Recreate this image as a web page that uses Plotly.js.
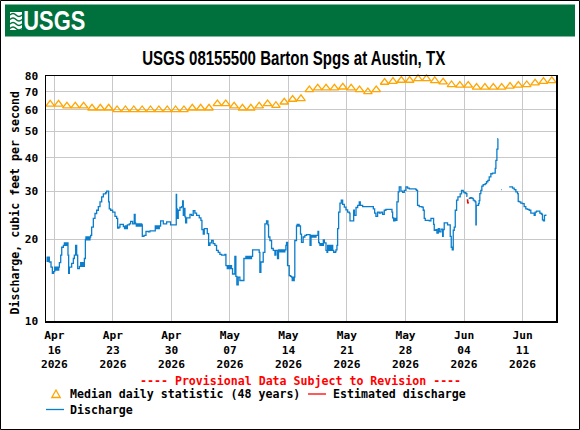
<!DOCTYPE html>
<html>
<head>
<meta charset="utf-8">
<script src="https://cdn.plot.ly/plotly-3.0.1.min.js"></script>
<style>
  html, body { margin: 0; padding: 0; background: #fff; }
  #chart { width: 580px; height: 430px; }
</style>
</head>
<body>
<div id="chart"></div>
<script>
// Barton Springs at Austin, TX: instantaneous discharge, Apr 15 - Jun 15 2026.
// Times are in days since 2026-04-15 00:00; null values break the line (missing data).
const startDate = Date.UTC(2026, 3, 15);

const flowDay = [
  0.08, 0.14, 0.20, 0.26, 0.32, 0.40, 0.60, 0.76, 0.90, 1.04, 1.12, 1.20, 1.28, 1.36, 1.44, 1.52,
  1.60, 1.76, 1.88, 2.08, 2.20, 2.26, 2.32, 2.38, 2.44, 2.50, 2.56, 2.63, 2.71, 2.79, 3.07, 3.27,
  3.39, 3.55, 3.67, 3.79, 3.99, 4.15, 4.22, 4.30, 4.38, 4.46, 4.55, 4.59, 4.71, 4.78, 4.86, 4.94,
  5.02, 5.10, 5.18, 5.26, 5.34, 5.46, 5.66, 5.86, 6.06, 6.26, 6.46, 6.66, 6.86, 7.14, 7.25, 7.45,
  7.49, 7.57, 7.73, 7.97, 8.25, 8.45, 8.57, 8.73, 8.85, 9.09, 9.25, 9.40, 9.50, 9.60, 9.73, 9.96,
  10.12, 10.36, 10.56, 10.66, 10.72, 10.80, 10.88, 10.96, 11.04, 11.12, 11.20, 11.28, 11.36, 11.44,
  11.52, 11.72, 11.96, 12.23, 12.43, 13.07, 13.15, 13.23, 13.31, 13.39, 13.47, 13.55, 13.71, 14.03,
  14.43, 14.90, 15.58, 15.62, 15.70, 15.82, 16.02, 16.22, 16.34, 16.42, 16.50, 16.62, 16.70, 16.82,
  17.22, 17.41, 17.61, 17.81, 18.01, 18.33, 18.53, 18.65, 18.81, 18.93, 19.29, 19.45, 19.61, 19.81,
  20.00, 20.20, 20.40, 20.60, 20.80, 21.00, 21.40, 21.52, 21.68, 21.76, 21.84, 21.92, 22.00, 22.08,
  22.19, 22.31, 22.59, 22.71, 22.83, 22.99, 23.19, 23.67, 23.91, 23.99, 24.07, 24.15, 24.23, 24.31,
  24.39, 24.47, 24.58, 24.71, 25.50, 25.58, 25.70, 25.98, 26.18, 26.38, 26.54, 26.62, 26.78, 26.98,
  27.18, 27.38, 27.49, 27.69, 27.81, 27.97, 28.05, 28.13, 28.21, 28.29, 28.37, 28.45, 28.57, 28.69,
  28.77, 28.89, 29.09, 29.25, 29.37, 29.45, 29.53, 29.61, 29.69, 29.76, 29.96, 30.04, 30.12, 30.20,
  30.28, 30.44, 30.56, 30.76, 30.96, 31.16, 31.58, 31.70, 31.80, 31.90, 32.00, 32.10, 32.20, 32.30,
  32.53, 32.61, 32.69, 32.77, 32.85, 32.93, 33.01, 33.09, 33.17, 33.29, 33.49, 33.61, 33.69, 33.77,
  33.85, 33.93, 34.01, 34.09, 34.17, 34.29, 34.41, 34.61, 34.68, 34.80, 34.88, 35.00, 35.16, 35.32,
  35.48, 35.68, 35.88, 36.08, 36.28, 36.36, 36.80, 36.88, 37.08, 37.28, 37.47, 37.59, 37.87, 39.15,
  39.31, 39.46, 39.66, 39.86, 40.06, 40.26, 40.46, 40.66, 41.38, 41.46, 41.58, 41.74, 41.85, 41.97,
  42.13, 42.25, 42.45, 42.65, 42.85, 43.05, 43.25, 43.45, 44.24, 44.32, 44.44, 44.64, 44.96, 45.12,
  45.24, 45.36, 45.84, 46.04, 46.36, 46.44, 46.64, 46.76, 46.92, 47.04, 47.24, 47.44, 47.51, 47.63,
  48.03, 48.35, 48.47, 48.59, 48.71, 48.83, 48.95, 49.11, 49.27, 49.54, 49.70, 49.90, 50.02, 50.22,
  50.34, 50.40, 50.41, 50.56, 50.74, 50.94, 51.10, 51.22, 51.34, 51.42, 51.46, 51.62, 51.73, 51.81,
  51.89, 52.01, 52.13, 52.29, 52.53, 52.69, 52.85, 53.01, 53.21, 53.41, 53.73, 53.81, 53.93, 54.05,
  54.08, 54.20, 54.45, 54.52, 54.60, 55.40, 55.80, 56.00, 56.20, 56.40, 56.48, 56.60, 56.79, 56.99,
  57.19, 57.39, 57.59, 57.79, 57.99, 58.39, 58.51, 58.67, 59.07, 59.19, 59.30, 59.38, 59.50, 59.62,
  59.78
];

const flowCfs = [
  17.2, 16.6, 17.2, 16.6, 17.2, 16.5, 15.8, 15.0, 15.2, 15.8, 15.4, 15.8, 15.4, 15.8, 15.4, 15.8,
  16.4, 17.5, 18.7, 19.0, 19.4, 19.0, 19.4, 19.0, 19.4, 19.0, 19.4, 17.5, 15.0, 15.8, 16.3, 17.0,
  17.5, 19.0, 17.5, 15.6, 15.9, 16.4, 15.9, 16.4, 15.9, 16.4, 15.9, 17.0, 20.0, 20.4, 19.9, 20.4,
  19.9, 20.4, 19.9, 20.4, 20.7, 22.2, 23.9, 24.9, 25.6, 26.4, 27.5, 28.7, 29.4, 29.7, 30.1, 30.1,
  27.5, 25.9, 25.6, 25.2, 24.3, 23.9, 22.0, 22.2, 22.7, 22.7, 22.3, 21.9, 22.4, 21.9, 22.6, 22.8,
  23.3, 22.8, 24.7, 23.0, 22.8, 22.4, 22.8, 22.4, 22.8, 22.4, 22.8, 22.4, 22.8, 22.6,
  20.5, 20.7, 21.4, 21.3, 21.5, 22.4, 21.9, 22.4, 21.9, 22.4, 21.9, 22.4, 23.4, 22.8,
  23.2, 22.6, 29.3, 25.9, 23.9, 25.6, 26.2, 26.4, 27.7, 24.5, 26.0, 24.2, 23.0, 24.0,
  24.7, 24.5, 25.5, 25.0, 24.5, 24.0, 23.5, 21.7, 20.9, 21.9, 21.0, 19.0, 19.4, 19.8,
  19.3, 19.0, 18.2, 17.9, 17.6, 17.5, 17.6, 16.0, 15.6, 16.0, 15.6, 16.0, 15.6, 16.0,
  15.6, 14.9, 17.3, 14.6, 13.6, 14.5, 14.1, 17.0, 17.3, 17.0, 17.3, 17.0, 17.3, 17.0,
  17.3, 17.0, 17.3, 18.3, 17.9, 15.1, 16.5, 17.9, 22.8, 23.4, 22.6, 20.4, 19.8, 18.5,
  18.2, 17.5, 18.2, 17.0, 18.3, 18.0, 18.3, 18.0, 18.3, 18.0, 18.3, 18.0, 18.3, 19.0,
  19.5, 16.0, 14.7, 14.6, 14.5, 14.1, 14.5, 14.1, 14.5, 19.8, 22.4, 22.7, 22.4, 22.7,
  22.4, 20.9, 19.5, 20.4, 20.7, 20.8, 19.0, 20.7, 20.4, 20.7, 20.4, 20.7, 20.4, 20.7,
  21.4, 19.5, 19.3, 19.0, 19.3, 19.0, 19.3, 19.0, 19.9, 19.4, 18.2, 17.9, 19.0, 18.2,
  19.0, 18.2, 19.0, 18.2, 19.0, 18.2, 17.9, 18.0, 18.3, 19.0, 21.9, 25.2, 27.2, 27.9,
  26.9, 26.3, 25.7, 25.2, 25.0, 23.4, 25.6, 24.5, 26.2, 26.7, 27.5, 26.7, 26.4, 25.9,
  25.0, 24.3, 25.2, 25.0, 25.2, 24.7, 25.6, 25.8, 25.2, 24.0, 23.4, 23.9, 23.5, 27.5,
  29.9, 31.2, 30.1, 29.8, 30.3, 31.2, 30.9, 30.7, 30.5, 30.3, 26.7, 26.4, 26.3, 25.6,
  23.9, 23.5, 23.4, 23.9, 22.7, 21.6, 21.7, 21.1, 21.9, 21.3, 21.8, 20.5, 21.7, 23.0,
  22.6, 20.5, 18.7, 18.3, 21.6, 22.2, 25.6, 27.9, 28.7, 29.4, 30.3, 29.9, 29.7, 29.5,
  28.8, 28.8, null, 28.3, 28.5, 28.3, 27.9, 27.7, 27.5, 22.6, 26.7, 26.7, 27.1, 27.8,
  29.5, 30.3, 31.4, 31.8, 32.1, 32.6, 33.0, 34.0, 34.9, 35.1, 36.5, 39.1, 43.0, 47.0,
  47.0, null, 30.5, 30.5, null, 31.2, 30.9, 30.5, 29.9, 29.5, 27.6, 27.5, 27.2, 27.1,
  26.4, 25.9, 25.8, 25.6, 25.0, 24.5, 25.2, 25.4, 25.0, 24.9, 24.7, 23.6, 23.4, 24.5,
  24.7
];

// Estimated discharge (short period on Jun 4)
const estDay = [50.42, 50.46, 50.50];
const estCfs = [28.1, 27.1, 27.5];

// Median daily statistic (48 years), one value per day starting Apr 15
const medianCfs = [
  63.0, 63.0, 62.0, 62.0, 62.0, 60.9, 60.9, 60.9, 60.1, 60.1,
  60.1, 60.1, 60.1, 60.1, 60.1, 60.1, 60.1, 60.9, 60.9, 60.9,
  63.2, 63.2, 62.0, 60.9, 60.9, 62.0, 63.2, 62.3, 64.1, 65.6,
  66.0, 71.2, 72.2, 72.2, 72.2, 72.8, 72.2, 71.2, 70.0, 71.2,
  75.8, 76.4, 77.1, 77.1, 78.2, 78.2, 76.9, 76.0, 74.3, 73.9,
  73.9, 72.7, 72.7, 72.7, 72.7, 73.3, 73.9, 74.3, 75.4, 76.4,
  76.9
];

const tickDates = ['2026-04-16', '2026-04-23', '2026-04-30', '2026-05-07', '2026-05-14',
                   '2026-05-21', '2026-05-28', '2026-06-04', '2026-06-11'];
const tickMonths = ['Apr', 'Apr', 'Apr', 'May', 'May', 'May', 'May', 'Jun', 'Jun'];
const tickDays = ['16', '23', '30', '07', '14', '21', '28', '04', '11'];
const tickYear = '2026';
const yTicks = [10, 20, 30, 40, 50, 60, 70, 80];

function dayToDate(d) {
  return new Date(startDate + d * 86400000).toISOString().replace('T', ' ').slice(0, 19);
}

// Plot box in pixels, and helpers to place decorations around it in paper units
const M = { l: 46, r: 24, t: 76, b: 109 };
const W = 580 - M.l - M.r, H = 430 - M.t - M.b;
const px = x => (x - M.l) / W;
const py = y => (M.t + H - y) / H;

const mono = 'DejaVu Sans Mono, Liberation Mono, monospace';
const narrow = 'Liberation Sans Narrow, Arial Narrow, Liberation Sans, Arial, sans-serif';
const green = '#00703c';
const orange = '#ffa500';
const blue = '#0a7dcc';

const traces = [
  {
    x: medianCfs.map((v, i) => dayToDate(i + 0.5)),
    y: medianCfs,
    type: 'scatter', mode: 'markers',
    marker: { symbol: 'triangle-up-open', size: 7.5, color: orange, line: { color: orange, width: 1.3 } },
    cliponaxis: false,
    hoverinfo: 'skip'
  },
  {
    x: flowDay.map(dayToDate),
    y: flowCfs,
    type: 'scatter', mode: 'lines',
    line: { color: blue, width: 1.3, shape: 'hv' },
    connectgaps: false
  },
  {
    x: estDay.map(dayToDate),
    y: estCfs,
    type: 'scatter', mode: 'lines',
    line: { color: '#ff0000', width: 1.6 }
  }
];

// Wave emblem of the logo, drawn in pixels then mapped to paper space
function wave(y) {
  return 'M' + px(10) + ',' + py(y) +
         ' Q' + px(13) + ',' + py(y - 3) + ' ' + px(16) + ',' + py(y) +
         ' T' + px(22) + ',' + py(y);
}

const shapes = [
  { type: 'rect', xref: 'paper', yref: 'paper', x0: px(0.5), x1: px(579.5), y0: py(0.5), y1: py(429.5),
    line: { color: '#000', width: 1 }, fillcolor: 'rgba(0,0,0,0)', layer: 'below' },
  { type: 'rect', xref: 'paper', yref: 'paper', x0: px(5), x1: px(575), y0: py(4.5), y1: py(36.5),
    line: { width: 0 }, fillcolor: green, layer: 'below' },
  { type: 'rect', xref: 'paper', yref: 'paper', x0: px(10), x1: px(22), y0: py(12), y1: py(30),
    line: { width: 0 }, fillcolor: '#fff' },
  ...[15, 19.5, 24, 28.5].map(y => ({
    type: 'path', xref: 'paper', yref: 'paper', path: wave(y),
    line: { color: green, width: 1.6 }
  })),
  // legend keys
  { type: 'path', xref: 'paper', yref: 'paper',
    path: 'M' + px(51.8) + ',' + py(397.5) + ' L' + px(56) + ',' + py(390) + ' L' + px(60.2) + ',' + py(397.5) + ' Z',
    line: { color: orange, width: 1.3 } },
  { type: 'line', xref: 'paper', yref: 'paper', x0: px(308), x1: px(326), y0: py(394), y1: py(394),
    line: { color: '#ff0000', width: 1.3 } },
  { type: 'line', xref: 'paper', yref: 'paper', x0: px(46), x1: px(64), y0: py(409.5), y1: py(409.5),
    line: { color: blue, width: 1.3 } }
];

const monoFont = (size, color) => ({ family: mono, size: size, color: color || '#000', weight: 'bold' });

const annotations = [
  { text: 'USGS', xref: 'paper', yref: 'paper', x: px(54), y: py(21), xanchor: 'center', yanchor: 'middle',
    showarrow: false, font: { family: narrow, size: 27, color: '#fff', weight: 'bold' } },
  { text: 'Discharge, cubic feet per second', textangle: -90, xref: 'paper', yref: 'paper',
    x: px(14), y: py(203.5), xanchor: 'center', yanchor: 'middle', showarrow: false, font: monoFont(11.6) },
  { text: '---- Provisional Data Subject to Revision ----', xref: 'paper', yref: 'paper',
    x: px(300), y: py(381.3), xanchor: 'center', yanchor: 'middle', showarrow: false, font: monoFont(11.6, '#ff0000') },
  { text: 'Median daily statistic (48 years)', xref: 'paper', yref: 'paper',
    x: px(68), y: py(394), xanchor: 'left', yanchor: 'middle', showarrow: false, font: monoFont(11.6) },
  { text: 'Estimated discharge', xref: 'paper', yref: 'paper',
    x: px(330.5), y: py(394), xanchor: 'left', yanchor: 'middle', showarrow: false, font: monoFont(11.6) },
  { text: 'Discharge', xref: 'paper', yref: 'paper',
    x: px(68), y: py(410), xanchor: 'left', yanchor: 'middle', showarrow: false, font: monoFont(11.6) }
];

const axisCommon = {
  showgrid: true, gridcolor: '#c8c8c8', gridwidth: 1,
  showline: true, mirror: true, linecolor: '#000', linewidth: 1.5,
  ticks: '', zeroline: false, fixedrange: true,
  tickfont: monoFont(11.2)
};

const layout = {
  width: 580, height: 430,
  margin: M,
  paper_bgcolor: '#fff', plot_bgcolor: '#fff',
  showlegend: false,
  title: {
    text: 'USGS 08155500 Barton Spgs at Austin, TX',
    font: { family: narrow, size: 21, color: '#000', weight: 'bold' },
    xref: 'container', yref: 'container', x: 293.7 / 580, y: 1 - 57.5 / 430,
    xanchor: 'center', yanchor: 'middle'
  },
  xaxis: Object.assign({}, axisCommon, {
    type: 'date',
    range: [dayToDate(0), dayToDate(61)],
    tickmode: 'array',
    tickvals: tickDates,
    ticktext: tickDates.map((d, i) => tickMonths[i] + '<br>' + tickDays[i] + '<br>' + tickYear),
    ticklabelstandoff: 3
  }),
  yaxis: Object.assign({}, axisCommon, {
    type: 'log',
    range: [1, Math.log10(80)],
    tickmode: 'array',
    tickvals: yTicks,
    ticktext: yTicks.map(String),
    ticklabelstandoff: 4
  }),
  shapes: shapes,
  annotations: annotations
};

// The heading and logo use a condensed face; fit them to their narrow widths.
function condense(el, width) {
  if (!el) return;
  el.setAttribute('textLength', width);
  el.setAttribute('lengthAdjust', 'spacingAndGlyphs');
}

Plotly.newPlot('chart', traces, layout, { displayModeBar: false, staticPlot: true }).then(gd => {
  condense(gd.querySelector('.gtitle'), 303);
  condense(gd.querySelector('.annotation-text'), 62);
});
</script>
</body>
</html>
